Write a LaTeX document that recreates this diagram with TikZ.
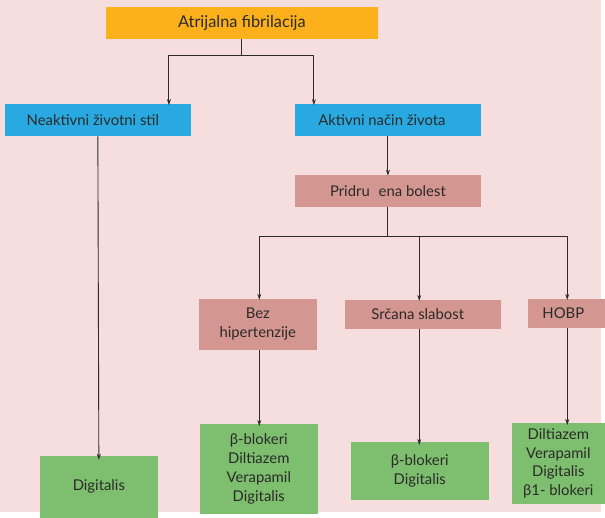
\documentclass[tikz,border=0pt]{standalone}
\usepackage{fontspec}
\setmainfont{Lato}
\usetikzlibrary{arrows.meta}
\definecolor{bgpink}{HTML}{F5DEDD}
\definecolor{afOrange}{HTML}{FBB01C}
\definecolor{afBlue}{HTML}{29A9E1}
\definecolor{afRose}{HTML}{D49690}
\definecolor{afGreen}{HTML}{7DBF6E}
\definecolor{afText}{HTML}{2B2A29}
\tikzset{
	box/.style={rectangle, inner sep=0pt, align=center, text=afText, font=\fontsize{15}{19}\selectfont},
	topbox/.style={box, fill=afOrange, font=\fontsize{16.5}{19}\selectfont},
	lifebox/.style={box, fill=afBlue, minimum width=187bp, minimum height=32bp},
	illbox/.style={box, fill=afRose},
	drugbox/.style={box, fill=afGreen, minimum width=119bp},
	link/.style={draw=afText, line width=0.9pt}
}
\begin{document}
\begin{tikzpicture}[x=1bp, y=-1bp, line join=round, >={Stealth[length=6pt,width=4pt]}]
	\fill[bgpink] (0,0) rectangle (605,515);
	% boxes
	\node[topbox, minimum width=273bp, minimum height=32bp] (af) at (243.5,23) {Atrijalna fibrilacija};
	\node[lifebox] (neakt) at (98.5,121) {Neaktivni životni stil\hspace{10bp}};
	\node[lifebox] (akt) at (390.5,121) {Aktivni način života\hspace{12bp}};
	\node[illbox, minimum width=187bp, minimum height=32bp] (prid) at (390.5,192) {Pridru\hspace{0.6em}ena bolest};
	\node[illbox, minimum width=119bp, minimum height=51bp] (bez) at (259.5,326.5) {Bez\\hipertenzije};
	\node[illbox, minimum width=157bp, minimum height=29bp] (src) at (425.5,316.5) {Srčana slabost\hspace{10bp}};
	\node[illbox, minimum width=78bp, minimum height=29bp] (hobp) at (570,315.5) {HOBP\hspace{6bp}};
	\node[drugbox, minimum height=62bp] (dig) at (99.5,490) {Digitalis};
	\node[drugbox, minimum height=90bp] (bezlek) at (260.5,472) {β-blokeri\\Diltiazem\\Verapamil\\Digitalis};
	\node[drugbox, minimum width=139bp, minimum height=58bp] (srclek) at (422.5,474) {β-blokeri\\Digitalis};
	\node[drugbox, minimum width=94bp, minimum height=81bp] (hobplek) at (562,466.5) {Diltiazem\\Verapamil\\Digitalis\\β1- blokeri};
	% junctions
	\coordinate (j1) at (170,56);
	\coordinate (j2) at (316,56);
	\coordinate (k1) at (261,238);
	\coordinate (k2) at (422,238);
	\coordinate (k3) at (571,238);
	% connectors
	\draw[link, ->] (af.south) |- (j1) -- ([yshift=-1bp]j1 |- neakt.north);
	\draw[link, ->] (af.south) |- (j2) -- ([yshift=-1bp]j2 |- akt.north);
	\draw[link, ->] (akt.south) -- ([yshift=-1bp]prid.north);
	\draw[link, ->] (prid.south) |- (k1) -- ([yshift=-1bp]k1 |- bez.north);
	\draw[link, ->] (prid.south) |- (k2) -- ([yshift=-1bp]k2 |- src.north);
	\draw[link, ->] (prid.south) |- (k3) -- ([yshift=-1bp]k3 |- hobp.north);
	\draw[link, ->] (neakt.south) -- ([yshift=-4bp]dig.north);
	\draw[link, ->] (bez.south -| k1) -- ([yshift=-2bp]k1 |- bezlek.north);
	\draw[link, ->] (src.south -| k2) -- ([yshift=-3bp]k2 |- srclek.north);
	\draw[link, ->] (hobp.south -| k3) -- ([yshift=-2bp]k3 |- hobplek.north);
\end{tikzpicture}
\end{document}
